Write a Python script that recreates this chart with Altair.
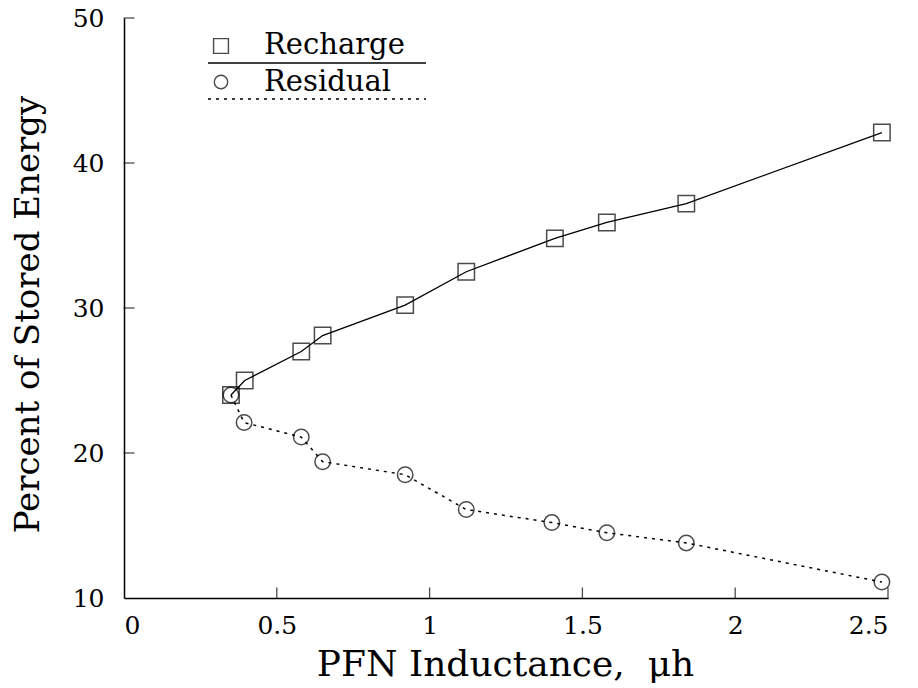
import altair as alt
import pandas as pd

# ---- data ----
ind_recharge = [0.35, 0.395, 0.58, 0.65, 0.92, 1.12, 1.41, 1.58, 1.84, 2.48]
pct_recharge = [24.0, 25.0, 27.0, 28.1, 30.2, 32.5, 34.8, 35.9, 37.2, 42.1]
ind_residual = [0.35, 0.393, 0.58, 0.65, 0.92, 1.12, 1.40, 1.58, 1.84, 2.48]
pct_residual = [24.0, 22.1, 21.1, 19.4, 18.5, 16.1, 15.2, 14.5, 13.8, 11.1]
x_ticks = [0, 0.5, 1, 1.5, 2, 2.5]
y_ticks = [10, 20, 30, 40, 50]
series_names = ["Recharge", "Residual"]

FONT = "DejaVu Serif"
W, H = 764, 580

rech = pd.DataFrame({"x": ind_recharge, "y": pct_recharge})
resi = pd.DataFrame({"x": ind_residual, "y": pct_residual})
xt = pd.DataFrame({"v": x_ticks[1:]})
yt = pd.DataFrame({"v": y_ticks[1:]})
one = pd.DataFrame({"k": [0]})

xs = alt.Scale(domain=[x_ticks[0], x_ticks[-1]], nice=False, zero=False)
ys = alt.Scale(domain=[y_ticks[0], y_ticks[-1]], nice=False, zero=False)

xax = alt.Axis(values=x_ticks, format="~g", title="PFN Inductance,\u00a0\u00a0μh",
               labelPadding=15, titleX=381, titleY=66, titleBaseline="middle",
               titleAlign="center", titleFontSize=36)
yax = alt.Axis(values=y_ticks, title="Percent of Stored Energy",
               labelPadding=20, titleX=-96, titleY=296, titleAngle=270,
               titleBaseline="middle", titleAlign="center", titleFontSize=34)

X = alt.X("x:Q", scale=xs, axis=xax)
Y = alt.Y("y:Q", scale=ys, axis=yax)

line_r = alt.Chart(rech).mark_line(color="black", strokeWidth=1.3).encode(x=X, y=Y)
line_s = alt.Chart(resi).mark_line(color="black", strokeWidth=1.5,
                                   strokeDash=[3, 5]).encode(x=X, y=Y)
pts_r = alt.Chart(rech).mark_point(shape="square", size=270, filled=False,
                                   color="black", strokeWidth=1.5).encode(x=X, y=Y)
pts_s = alt.Chart(resi).mark_point(shape="circle", size=240, filled=False,
                                   color="black", strokeWidth=1.5).encode(x=X, y=Y)

tick_x = alt.Chart(xt).mark_tick(orient="vertical", size=11, thickness=1.3,
                                 color="black", yOffset=-5).encode(
    x=alt.X("v:Q", scale=xs), y=alt.datum(y_ticks[0]))
tick_y = alt.Chart(yt).mark_tick(orient="horizontal", size=11, thickness=1.3,
                                 color="black", xOffset=5).encode(
    y=alt.Y("v:Q", scale=ys), x=alt.datum(x_ticks[0]))

# ---- legend (drawn by hand, one row each) ----
leg_sq = alt.Chart(one).mark_point(shape="square", size=220, filled=False,
                                   color="black", strokeWidth=1.4).encode(
    x=alt.value(97), y=alt.value(28))
leg_ci = alt.Chart(one).mark_point(shape="circle", size=180, filled=False,
                                   color="black", strokeWidth=1.4).encode(
    x=alt.value(97), y=alt.value(64))
leg_t1 = alt.Chart(one).mark_text(text=series_names[0], font=FONT, fontSize=29,
                                  fontWeight="normal", align="left",
                                  baseline="middle", color="black").encode(
    x=alt.value(140), y=alt.value(27))
leg_t2 = alt.Chart(one).mark_text(text=series_names[1], font=FONT, fontSize=29,
                                  fontWeight="normal", align="left",
                                  baseline="middle", color="black").encode(
    x=alt.value(140), y=alt.value(64))
leg_l1 = alt.Chart(one).mark_rule(color="black", strokeWidth=1.4).encode(
    x=alt.value(84), x2=alt.value(302), y=alt.value(45))
leg_l2 = alt.Chart(one).mark_rule(color="black", strokeWidth=1.5,
                                  strokeDash=[3, 5]).encode(
    x=alt.value(84), x2=alt.value(302), y=alt.value(81))

chart = alt.layer(
    line_r, line_s, pts_r, pts_s, tick_x, tick_y,
    leg_l1, leg_l2, leg_sq, leg_ci, leg_t1, leg_t2
).properties(
    width=W, height=H,
    autosize=alt.AutoSizeParams(type="none"),
    padding={"left": 124, "top": 18, "right": 30, "bottom": 90},
    background="white",
).configure_view(stroke=None).configure_axis(
    grid=False, ticks=False, domainColor="black", domainWidth=1.5,
    labelFont=FONT, labelFontSize=25, labelColor="black",
    titleFont=FONT, titleColor="black", titleFontWeight="normal",
)

chart.save("out.html", embed_options={"renderer": "svg", "actions": False})
